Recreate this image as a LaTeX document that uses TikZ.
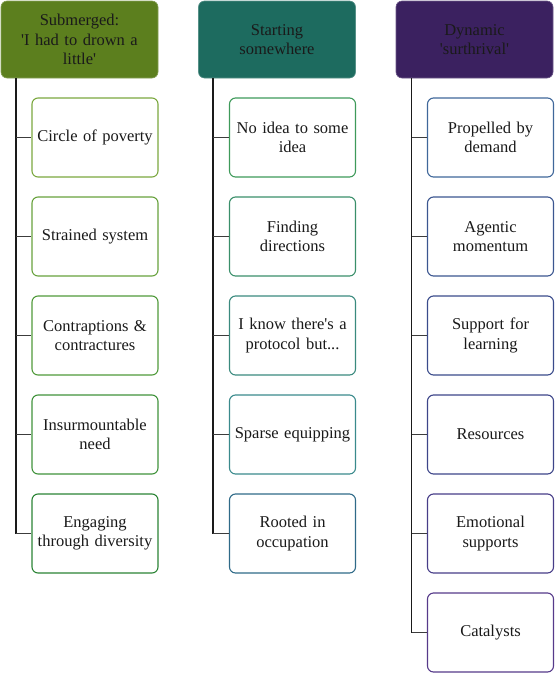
\documentclass[tikz,border=0pt]{standalone}
\usepackage{fontspec}
\setmainfont{Liberation Serif}
\definecolor{hA}{HTML}{5C7F1E}
\definecolor{hB}{HTML}{1D6B5F}
\definecolor{hC}{HTML}{3B2160}
\definecolor{cAa}{HTML}{7BA83F}
\definecolor{cAb}{HTML}{68A23D}
\definecolor{cAc}{HTML}{509A3A}
\definecolor{cAd}{HTML}{40923B}
\definecolor{cAe}{HTML}{2B8435}
\definecolor{cBa}{HTML}{3E9A5A}
\definecolor{cBb}{HTML}{3A8F6A}
\definecolor{cBc}{HTML}{3A8A7E}
\definecolor{cBd}{HTML}{3A8A8C}
\definecolor{cBe}{HTML}{2F6A88}
\definecolor{cCa}{HTML}{3F679A}
\definecolor{cCb}{HTML}{3B5690}
\definecolor{cCc}{HTML}{3A4B8B}
\definecolor{cCd}{HTML}{3D4589}
\definecolor{cCe}{HTML}{473D88}
\definecolor{cCf}{HTML}{563A8A}
\definecolor{ink}{HTML}{1A1A1A}
\newcommand{\sq}{\textquotesingle}
\tikzset{
  txt/.style={font=\fontsize{16.5}{19.5}\selectfont, text=ink, align=center},
  head/.style={txt, fill=#1, draw=#1!75!white, line width=0.6pt, rounded corners=6pt,
    minimum width=157pt, minimum height=77pt, inner sep=0pt, text width=150pt},
  child/.style={txt, fill=white, draw=#1, line width=1.1pt, rounded corners=6pt,
    minimum width=126pt, minimum height=79pt, inner sep=0pt, text width=124pt},
  trunk/.style={draw=ink, line width=1.6pt},
  branch/.style={draw=ink!85!white, line width=1.1pt}
}
\begin{document}
\begin{tikzpicture}[x=1pt,y=-1pt]
\useasboundingbox (0,0) rectangle (555,673);
% headers
\node[head=hA] (h1) at (79.5,39.5) {Submerged:\\\sq I had to drown a\\little\sq};
\node[head=hB] (h2) at (277,39.5) {Starting\\somewhere};
\node[head=hC] (h3) at (474.5,39.5) {Dynamic\\\sq surthrival\sq};
% column 1
\node[child=cAa] (a1) at (95,137.5) {Circle of poverty};
\node[child=cAb] (a2) at (95,236.5) {Strained system};
\node[child=cAc] (a3) at (95,335.5) {Contraptions \&\\contractures};
\node[child=cAd] (a4) at (95,434.5) {Insurmountable\\need};
\node[child=cAe] (a5) at (95,533.5) {Engaging\\through diversity};
% column 2
\node[child=cBa] (b1) at (292.5,137.5) {No idea to some\\idea};
\node[child=cBb] (b2) at (292.5,236.5) {Finding\\directions};
\node[child=cBc] (b3) at (292.5,335.5) {I know there\sq s a\\protocol but...};
\node[child=cBd] (b4) at (292.5,434.5) {Sparse equipping};
\node[child=cBe] (b5) at (292.5,533.5) {Rooted in\\occupation};
% column 3
\node[child=cCa] (c1) at (490.5,137.5) {Propelled by\\demand};
\node[child=cCb] (c2) at (490.5,236.5) {Agentic\\momentum};
\node[child=cCc] (c3) at (490.5,335.5) {Support for\\learning};
\node[child=cCd] (c4) at (490.5,434.5) {Resources};
\node[child=cCe] (c5) at (490.5,533.5) {Emotional\\supports};
\node[child=cCf] (c6) at (490.5,632.5) {Catalysts};
% trunks
\coordinate (t1) at (16,78);
\coordinate (t2) at (213,78);
\coordinate (t3) at (411.5,78);
\draw[trunk] (t1) -- (t1 |- a5.west);
\draw[trunk] (t2) -- (t2 |- b5.west);
\draw[trunk] (t3) -- (t3 |- c6.west);
% branches
\foreach \n in {a1,a2,a3,a4,a5} \draw[branch] (t1 |- \n.west) -- (\n.west);
\foreach \n in {b1,b2,b3,b4,b5} \draw[branch] (t2 |- \n.west) -- (\n.west);
\foreach \n in {c1,c2,c3,c4,c5,c6} \draw[branch] (t3 |- \n.west) -- (\n.west);
\end{tikzpicture}
\end{document}
